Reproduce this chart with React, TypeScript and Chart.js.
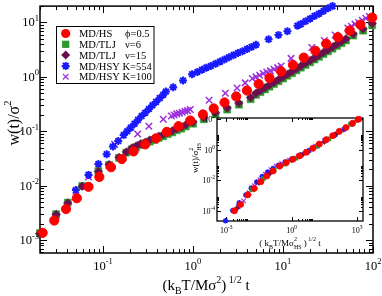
import React, { useEffect, useRef } from 'react';
import { Chart, registerables } from 'chart.js';

Chart.register(...registerables);

const SERIF = '"Liberation Serif", "Times New Roman", Times, serif';

// ---------------- main plot data ----------------
const hsX = [0.0214, 0.0288, 0.0389, 0.0513, 0.0692, 0.0912, 0.123, 0.162, 0.219, 0.295, 0.389, 0.513, 0.692, 0.933, 1.29, 1.70, 2.24, 3.02, 3.98, 5.37, 7.08, 9.55, 12.9, 17.0, 22.9, 30.2, 40.7, 55.0, 72.4, 98.0];
const hsY = [0.00136, 0.00229, 0.00372, 0.00589, 0.00955, 0.0145, 0.0219, 0.0309, 0.0427, 0.0575, 0.0741, 0.0977, 0.124, 0.158, 0.204, 0.263, 0.339, 0.437, 0.562, 0.741, 0.955, 1.26, 1.66, 2.26, 3.02, 4.07, 5.37, 7.08, 9.12, 12.3];

const tljX = [0.0200, 0.0302, 0.0407, 0.0589, 0.0891, 0.117, 0.151, 0.182, 0.209, 0.234, 0.263, 0.295, 0.331, 0.372, 0.417, 0.468, 0.525, 0.589, 0.661, 0.741, 0.832, 1.00, 1.32, 1.78, 2.40, 3.24, 4.37, 5.01, 5.62, 6.31, 7.08, 7.94, 8.91, 10.0, 11.2, 12.6, 14.1, 15.8, 17.8, 20.0, 22.4, 25.1, 28.2, 31.6, 35.5, 39.8, 44.7, 50.1, 60.3, 77.6, 98.0];
const tlj6Y = [0.00135, 0.00300, 0.00490, 0.00990, 0.0185, 0.0240, 0.0325, 0.0405, 0.0468, 0.0513, 0.0562, 0.0603, 0.0646, 0.0692, 0.0759, 0.0813, 0.0891, 0.0955, 0.105, 0.112, 0.123, 0.138, 0.166, 0.204, 0.251, 0.309, 0.389, 0.468, 0.525, 0.589, 0.661, 0.741, 0.832, 0.933, 1.05, 1.17, 1.32, 1.48, 1.66, 1.86, 2.09, 2.34, 2.63, 2.95, 3.31, 3.72, 4.17, 4.68, 5.75, 7.08, 8.91];
const tlj15Y = [0.00132, 0.00295, 0.00479, 0.00977, 0.0182, 0.0245, 0.0331, 0.0417, 0.0490, 0.0537, 0.0589, 0.0631, 0.0692, 0.0741, 0.0813, 0.0871, 0.0955, 0.102, 0.112, 0.120, 0.132, 0.148, 0.178, 0.219, 0.269, 0.331, 0.417, 0.501, 0.562, 0.631, 0.708, 0.794, 0.891, 1.00, 1.12, 1.26, 1.41, 1.58, 1.78, 2.00, 2.24, 2.51, 2.82, 3.16, 3.55, 3.98, 4.47, 5.01, 6.17, 7.59, 9.55];

const hsy554X = [0.0200, 0.0302, 0.0501, 0.0692, 0.0891, 0.110, 0.129, 0.148, 0.170, 0.186, 0.204, 0.224, 0.245, 0.269, 0.295, 0.324, 0.355, 0.389, 0.427, 0.468, 0.501, 0.603, 0.776, 0.977, 1.12, 1.26, 1.41, 1.58, 1.78, 2.00, 2.24, 2.51, 2.82, 3.16, 3.55, 3.98, 4.47, 5.01, 6.92, 8.91, 11.2, 14.5, 15.8, 17.8, 20.0, 22.4, 25.1, 28.2, 31.6, 35.5];
const hsy554Y = [0.00132, 0.00295, 0.00832, 0.0158, 0.0251, 0.0380, 0.0525, 0.0661, 0.0851, 0.100, 0.117, 0.138, 0.162, 0.191, 0.219, 0.257, 0.302, 0.347, 0.407, 0.468, 0.537, 0.646, 0.861, 1.12, 1.23, 1.35, 1.48, 1.58, 1.74, 1.91, 2.09, 2.29, 2.51, 2.75, 2.95, 3.24, 3.55, 3.89, 4.90, 5.89, 6.92, 8.71, 9.33, 10.5, 11.7, 13.2, 14.5, 16.2, 18.2, 20.0];

const hsy100X = [0.0200, 0.0302, 0.0501, 0.0692, 0.0891, 0.135, 0.243, 0.324, 0.468, 0.575, 0.617, 0.661, 0.708, 0.759, 0.813, 0.871, 0.933, 1.51, 2.29, 3.09, 3.80, 4.57, 5.01, 5.50, 6.03, 6.61, 7.24, 7.94, 8.71, 9.55, 12.3, 20.9, 28.8, 38.0, 52.5, 57.5, 63.1, 69.2, 75.9, 83.2, 91.2];
const hsy100Y = [0.00132, 0.00282, 0.00794, 0.0145, 0.0229, 0.0575, 0.0891, 0.124, 0.166, 0.191, 0.200, 0.209, 0.214, 0.224, 0.234, 0.240, 0.251, 0.372, 0.501, 0.624, 0.776, 0.933, 1.00, 1.07, 1.15, 1.23, 1.29, 1.38, 1.48, 1.58, 2.19, 3.47, 4.68, 5.89, 7.94, 8.51, 9.33, 10.0, 11.0, 12.0, 12.9];

// ---------------- inset data ----------------
const insetHsX = [0.00240, 0.00447, 0.00977, 0.0195, 0.0389, 0.0724, 0.141, 0.282, 0.575, 1.15, 2.29, 4.68, 9.33, 18.6, 38.0, 75.9, 151, 309, 617, 1148];
const insetHsY = [1.05e-4, 2.69e-4, 1.15e-3, 3.02e-3, 8.32e-3, 0.0191, 0.0407, 0.0851, 0.145, 0.240, 0.389, 0.676, 1.23, 2.34, 4.47, 8.13, 15.5, 27.5, 52.5, 95.5];
const insetTlj6X = [5.01e-3, 0.0158, 0.0501, 0.158, 0.501, 1.58, 5.01, 15.8, 50.1, 158, 501];
const insetTlj6Y = [2.82e-4, 2.51e-3, 0.0132, 0.0468, 0.117, 0.282, 0.661, 1.74, 5.01, 15.1, 44.7];
const insetTlj15X = [3.16e-3, 0.0100, 0.0316, 0.100, 0.316, 1.0, 3.16, 10, 31.6, 100, 316, 1000];
const insetTlj15Y = [1.58e-4, 1.26e-3, 7.08e-3, 0.0282, 0.0891, 0.209, 0.479, 1.20, 3.31, 9.55, 28.2, 83.2];
const insetK554X = [9.33e-4, 2.0e-3, 3.98e-3, 7.94e-3, 0.0141, 0.0251, 0.0447, 0.0794, 0.141, 0.251, 0.501, 1.0, 2.51, 6.31, 15.8, 39.8, 100, 251, 631, 1259];
const insetK554Y = [2.40e-5, 1.12e-4, 3.55e-4, 1.12e-3, 3.16e-3, 7.94e-3, 0.0178, 0.0355, 0.0603, 0.0955, 0.158, 0.251, 0.447, 0.891, 1.91, 4.27, 9.55, 21.4, 47.9, 95.5];
const insetK100X = [3.55e-3, 6.31e-3, 0.0112, 0.0200, 0.0355, 0.0631, 0.112, 0.200, 0.355, 0.794, 2.0, 5.01, 12.6, 31.6, 79.4, 200, 501, 1202];
const insetK100Y = [2.0e-4, 4.68e-4, 1.58e-3, 4.47e-3, 0.0112, 0.0251, 0.0501, 0.0832, 0.126, 0.209, 0.380, 0.759, 1.66, 3.80, 8.51, 18.6, 42.7, 100];

// ---------------- ticks & labels ----------------
const mainXMajor = [0.1, 1, 10, 100];
const mainXExp = ['-1', '0', '1', '2'];
const mainYMajor = [1e-3, 1e-2, 1e-1, 1, 10];
const mainYExp = ['-3', '-2', '-1', '0', '1'];
const insetXMajor = [1e-3, 1, 1e3];
const insetXExp = ['-3', '0', '3'];
const insetYMajor = [1e-4, 1e-2, 1, 1e2];
const insetYExp = ['-4', '-2', '0', '2'];

const legendNames = ['MD/HS', 'MD/TLJ', 'MD/TLJ', 'MD/HSY K=554', 'MD/HSY K=100'];
const legendParams = ['\u03D5=0.5', '\u03BD=6', '\u03BD=15', '', ''];

const C_RED = '#ff0000';
const C_GREEN = '#2a9a2a';
const C_DARK = '#6b0f4f';
const C_BLUE = '#1a1aff';
const C_VIOLET = '#9b30dd';

const pts = (xs: number[], ys: number[]) => xs.map((x, i) => ({ x, y: ys[i] }));

function ds(label: string, xs: number[], ys: number[], style: string, color: string, r: number, bw: number, order: number) {
  return {
    label,
    data: pts(xs, ys),
    showLine: false,
    pointStyle: style,
    pointRadius: r,
    pointHoverRadius: r,
    pointBackgroundColor: color,
    pointBorderColor: color,
    pointBorderWidth: bw,
    order,
    clip: false as any,
  };
}

const minors = (decades: number[]) =>
  decades.flatMap((k) => [2, 3, 4, 5, 6, 7, 8, 9].map((m) => m * Math.pow(10, k)));

type Part = { t: string; s: number; dy: number; adv?: boolean };

function drawParts(ctx: CanvasRenderingContext2D, parts: Part[], x: number, y: number, align: string) {
  let w = 0;
  for (const p of parts) {
    ctx.font = `${p.s}px ${SERIF}`;
    if (p.adv !== false) w += ctx.measureText(p.t).width;
  }
  let cx = align === 'center' ? x - w / 2 : align === 'right' ? x - w : x;
  ctx.textAlign = 'left';
  ctx.textBaseline = 'alphabetic';
  for (const p of parts) {
    ctx.font = `${p.s}px ${SERIF}`;
    ctx.fillText(p.t, cx, y + p.dy);
    if (p.adv !== false) cx += ctx.measureText(p.t).width;
  }
}

function drawPow(ctx: CanvasRenderingContext2D, exp: string, x: number, y: number, fs: number, ss: number, raise: number, align: string) {
  drawParts(ctx, [{ t: '10', s: fs, dy: 0 }, { t: exp, s: ss, dy: -raise }], x, y, align);
}

function drawFrame(chart: any, cfg: any) {
  const { ctx, chartArea: a, scales } = chart;
  const xs = scales.x;
  const ys = scales.y;
  ctx.save();
  if (cfg.fill) {
    ctx.fillStyle = '#ffffff';
    ctx.fillRect(a.left, a.top, a.right - a.left, a.bottom - a.top);
  }
  ctx.strokeStyle = '#000';
  ctx.lineWidth = 1;
  ctx.beginPath();
  const tx = (v: number, len: number) => {
    if (v < xs.min || v > xs.max) return;
    const p = Math.round(xs.getPixelForValue(v)) + 0.5;
    ctx.moveTo(p, a.bottom);
    ctx.lineTo(p, a.bottom - len);
    ctx.moveTo(p, a.top);
    ctx.lineTo(p, a.top + len);
  };
  const ty = (v: number, len: number) => {
    if (v < ys.min || v > ys.max) return;
    const p = Math.round(ys.getPixelForValue(v)) + 0.5;
    ctx.moveTo(a.left, p);
    ctx.lineTo(a.left + len, p);
    ctx.moveTo(a.right, p);
    ctx.lineTo(a.right - len, p);
  };
  cfg.xMajor.forEach((v: number) => tx(v, cfg.major));
  cfg.xMinor.forEach((v: number) => tx(v, cfg.minor));
  cfg.yMajor.forEach((v: number) => ty(v, cfg.major));
  cfg.yMinor.forEach((v: number) => ty(v, cfg.minor));
  ctx.stroke();
  ctx.lineWidth = cfg.frameWidth;
  ctx.strokeRect(a.left, a.top, a.right - a.left, a.bottom - a.top);
  ctx.restore();
}

function legendMarker(ctx: CanvasRenderingContext2D, i: number, x: number, y: number) {
  ctx.save();
  if (i === 0) {
    ctx.fillStyle = C_RED;
    ctx.beginPath();
    ctx.arc(x, y, 4.6, 0, Math.PI * 2);
    ctx.fill();
  } else if (i === 1) {
    ctx.fillStyle = C_GREEN;
    ctx.fillRect(x - 3.6, y - 3.6, 7.2, 7.2);
  } else if (i === 2) {
    ctx.fillStyle = C_DARK;
    ctx.beginPath();
    ctx.moveTo(x, y - 4.5);
    ctx.lineTo(x + 4.5, y);
    ctx.lineTo(x, y + 4.5);
    ctx.lineTo(x - 4.5, y);
    ctx.closePath();
    ctx.fill();
  } else if (i === 3) {
    ctx.strokeStyle = C_BLUE;
    ctx.lineWidth = 2;
    const r = 4;
    const d = r * Math.SQRT1_2;
    ctx.beginPath();
    ctx.moveTo(x - r, y); ctx.lineTo(x + r, y);
    ctx.moveTo(x, y - r); ctx.lineTo(x, y + r);
    ctx.moveTo(x - d, y - d); ctx.lineTo(x + d, y + d);
    ctx.moveTo(x - d, y + d); ctx.lineTo(x + d, y - d);
    ctx.stroke();
  } else {
    ctx.strokeStyle = C_VIOLET;
    ctx.lineWidth = 1.3;
    const d = 2.8;
    ctx.beginPath();
    ctx.moveTo(x - d, y - d); ctx.lineTo(x + d, y + d);
    ctx.moveTo(x - d, y + d); ctx.lineTo(x + d, y - d);
    ctx.stroke();
  }
  ctx.restore();
}

const mainDeco = {
  id: 'mainDeco',
  beforeDatasetsDraw(chart: any) {
    drawFrame(chart, {
      xMajor: mainXMajor,
      xMinor: minors([-2, -1, 0, 1]),
      yMajor: mainYMajor,
      yMinor: minors([-4, -3, -2, -1, 0, 1]),
      major: 7,
      minor: 4,
      frameWidth: 1.5,
      fill: false,
    });
  },
  afterDraw(chart: any) {
    const { ctx, chartArea: a, scales } = chart;
    ctx.save();
    ctx.fillStyle = '#000';
    mainXMajor.forEach((v, i) => {
      drawPow(ctx, mainXExp[i], scales.x.getPixelForValue(v), a.bottom + 17, 12.5, 8.5, 6.5, 'center');
    });
    mainYMajor.forEach((v, i) => {
      drawPow(ctx, mainYExp[i], a.left - 1, scales.y.getPixelForValue(v) + 4, 12.5, 8.5, 5.5, 'right');
    });
    // x title
    drawParts(ctx, [
      { t: '(k', s: 15, dy: 0 },
      { t: 'B', s: 10, dy: 4 },
      { t: 'T/M\u03C3', s: 15, dy: 0 },
      { t: '2', s: 10, dy: -7.5 },
      { t: ')', s: 15, dy: 0 },
      { t: ' 1/2', s: 10, dy: -7.5 },
      { t: ' t', s: 15, dy: 0 },
    ], 206, 290, 'center');
    // y title
    ctx.save();
    ctx.translate(19, 123);
    ctx.rotate(-Math.PI / 2);
    drawParts(ctx, [
      { t: 'w(t)/\u03C3', s: 16, dy: 0 },
      { t: '2', s: 10.5, dy: -8 },
    ], 0, 0, 'center');
    ctx.restore();
    // legend
    const lx = 56.5, ly = 26.5, lw = 97.5, lh = 57;
    ctx.fillStyle = '#fff';
    ctx.fillRect(lx, ly, lw, lh);
    ctx.strokeStyle = '#000';
    ctx.lineWidth = 1;
    ctx.strokeRect(lx, ly, lw, lh);
    ctx.fillStyle = '#000';
    legendNames.forEach((n, i) => {
      const cy = 33.5 + i * 10.8;
      legendMarker(ctx, i, 65.7, cy);
      ctx.fillStyle = '#000';
      ctx.font = `10.5px ${SERIF}`;
      ctx.textAlign = 'left';
      ctx.textBaseline = 'alphabetic';
      ctx.fillText(n, 79, cy + 3.6);
      if (legendParams[i]) ctx.fillText(legendParams[i], 125, cy + 3.6);
    });
    ctx.restore();
  },
};

const insetDeco = {
  id: 'insetDeco',
  beforeDatasetsDraw(chart: any) {
    drawFrame(chart, {
      xMajor: insetXMajor,
      xMinor: minors([-3, 0, 3]),
      yMajor: insetYMajor,
      yMinor: minors([-4, -2, 0]),
      major: 4,
      minor: 2,
      frameWidth: 1.3,
      fill: true,
    });
  },
  afterDraw(chart: any) {
    const { ctx, chartArea: a, scales } = chart;
    ctx.save();
    ctx.fillStyle = '#000';
    insetXMajor.forEach((v, i) => {
      drawPow(ctx, insetXExp[i], scales.x.getPixelForValue(v), a.bottom + 12, 8, 5.5, 4, 'center');
    });
    insetYMajor.forEach((v, i) => {
      drawPow(ctx, insetYExp[i], a.left - 2, scales.y.getPixelForValue(v) + 3, 8, 5.5, 4, 'right');
    });
    drawParts(ctx, [
      { t: '( k', s: 9, dy: 0 },
      { t: 'B', s: 6, dy: 2.5 },
      { t: 'T/M\u03C3', s: 9, dy: 0 },
      { t: '2', s: 6, dy: -5, adv: false },
      { t: 'HS', s: 6, dy: 2.5 },
      { t: ' )', s: 9, dy: 0 },
      { t: ' 1/2', s: 6, dy: -5 },
      { t: ' t', s: 9, dy: 0 },
    ], a.left + (a.right - a.left) / 2, a.bottom + 25, 'center');
    ctx.save();
    ctx.translate(a.left - 19, a.top + 40);
    ctx.rotate(-Math.PI / 2);
    drawParts(ctx, [
      { t: 'w(t)/\u03C3', s: 9, dy: 0 },
      { t: '2', s: 6, dy: -5, adv: false },
      { t: 'HS', s: 6, dy: 2.5 },
    ], 0, 0, 'center');
    ctx.restore();
    ctx.restore();
  },
};

export default function App() {
  const mainRef = useRef<HTMLCanvasElement>(null);
  const insetRef = useRef<HTMLCanvasElement>(null);

  useEffect(() => {
    const main = new Chart(mainRef.current as HTMLCanvasElement, {
      type: 'scatter',
      data: {
        datasets: [
          ds('MD/HS \u03D5=0.5', hsX, hsY, 'circle', C_RED, 4.6, 1, 0),
          ds('MD/TLJ \u03BD=6', tljX, tlj6Y, 'rect', C_GREEN, 5, 0.5, 2),
          ds('MD/TLJ \u03BD=15', tljX, tlj15Y, 'rectRot', C_DARK, 4.3, 0.5, 1),
          ds('MD/HSY K=554', hsy554X, hsy554Y, 'star', C_BLUE, 4, 2, 3),
          ds('MD/HSY K=100', hsy100X, hsy100Y, 'crossRot', C_VIOLET, 4.6, 1.5, 4),
        ] as any,
      },
      options: {
        responsive: false,
        animation: false,
        events: [],
        layout: { padding: { left: 40, top: 4, right: 9, bottom: 43 } },
        plugins: { legend: { display: false }, tooltip: { enabled: false } },
        scales: {
          x: { type: 'logarithmic', min: 0.02, max: 100, display: false },
          y: { type: 'logarithmic', min: 5.8e-4, max: 20, display: false },
        },
      } as any,
      plugins: [mainDeco as any],
    });

    const inset = new Chart(insetRef.current as HTMLCanvasElement, {
      type: 'scatter',
      data: {
        datasets: [
          ds('MD/HS', insetHsX, insetHsY, 'circle', C_RED, 3, 0.8, 0),
          ds('MD/TLJ 6', insetTlj6X, insetTlj6Y, 'rect', C_GREEN, 3, 0.5, 2),
          ds('MD/TLJ 15', insetTlj15X, insetTlj15Y, 'rectRot', C_DARK, 2.8, 0.5, 1),
          ds('MD/HSY 554', insetK554X, insetK554Y, 'star', C_BLUE, 2.8, 1.5, 3),
          ds('MD/HSY 100', insetK100X, insetK100Y, 'crossRot', C_VIOLET, 3.2, 1.2, 4),
        ] as any,
      },
      options: {
        responsive: false,
        animation: false,
        events: [],
        layout: { padding: { left: 31, top: 8, right: 7, bottom: 31 } },
        plugins: { legend: { display: false }, tooltip: { enabled: false } },
        scales: {
          x: { type: 'logarithmic', min: 3.8e-4, max: 1.86e3, display: false },
          y: { type: 'logarithmic', min: 2.3e-5, max: 115, display: false },
        },
      } as any,
      plugins: [insetDeco as any],
    });

    return () => {
      main.destroy();
      inset.destroy();
    };
  }, []);

  return (
    <div style={{ position: 'fixed', left: 0, top: 0, width: 382, height: 296, background: '#ffffff' }}>
      <canvas ref={mainRef} width={382} height={296} style={{ position: 'absolute', left: 0, top: 0 }} />
      <canvas ref={insetRef} width={184} height={142} style={{ position: 'absolute', left: 186, top: 110 }} />
    </div>
  );
}
